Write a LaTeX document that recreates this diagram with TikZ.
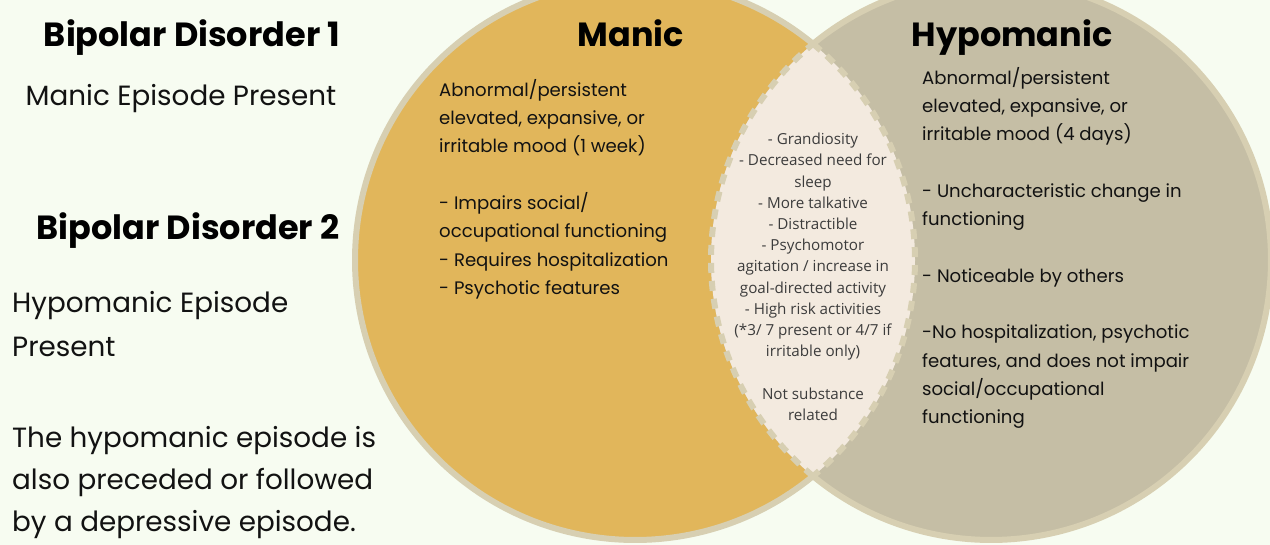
\documentclass[tikz,border=0pt]{standalone}
\usepackage{fontspec}
\setmainfont{Poppins}
\newfontfamily\lensfont{Open Sans}
\usetikzlibrary{positioning}
\definecolor{bgmint}{HTML}{F7FCF1}
\definecolor{manicgold}{HTML}{E1B65B}
\definecolor{hypogrey}{HTML}{C5BEA5}
\definecolor{lenscream}{HTML}{F3EADF}
\definecolor{rimbeige}{HTML}{D7CFB2}
\definecolor{inktext}{HTML}{121212}
\definecolor{lensink}{HTML}{3C3C3C}

\begin{document}
\begin{tikzpicture}[x=1pt, y=-1pt,
    heading/.style={font=\fontsize{33.5}{38}\selectfont\bfseries, text=black, inner sep=0pt, anchor=base},
    sidetext/.style={font=\fontsize{27.8}{44}\selectfont, text=inktext, inner sep=0pt, align=left},
    bodytext/.style={font=\fontsize{18.1}{28.3}\selectfont, text=inktext, inner sep=0pt, align=left, anchor=north west},
    lenstext/.style={font=\lensfont\fontsize{15.2}{21.2}\selectfont, text=lensink, inner sep=0pt, align=center, anchor=north},
    rim/.style={draw=rimbeige, line width=6pt},
    rimdash/.style={draw=rimbeige, line width=6pt, dash pattern=on 10pt off 8pt}
]
\def\rad{280}
\def\tip{50.53}
\useasboundingbox (0,0) rectangle (1270,545);
\fill[bgmint] (0,0) rectangle (1270,545);

% the two sets
\coordinate (mc) at (635,260);
\coordinate (hc) at (991,260);
\fill[manicgold] (mc) circle (\rad);
\fill[hypogrey]  (hc) circle (\rad);
\begin{scope}
  \clip (mc) circle (\rad);
  \fill[lenscream] (hc) circle (\rad);
\end{scope}

% rims: solid outside, dashed around the overlap
\draw[rim] (mc) ++(\tip:\rad) arc[start angle=\tip, end angle=360-\tip, radius=\rad];
\draw[rim] (hc) ++(180+\tip:\rad) arc[start angle=180+\tip, end angle=540-\tip, radius=\rad];
\draw[rimdash] (mc) ++(-\tip:\rad) arc[start angle=-\tip, end angle=\tip, radius=\rad];
\draw[rimdash] (hc) ++(180-\tip:\rad) arc[start angle=180-\tip, end angle=180+\tip, radius=\rad];

% left column
\node[heading] (bd1) at (192,47) {Bipolar Disorder 1};
\node[sidetext, anchor=base] (bd1txt) at (181,106) {Manic Episode Present};
\node[heading] (bd2) at (188,240) {Bipolar Disorder 2};
\node[sidetext, anchor=north west] (bd2txt) at (12,291) {Hypomanic Episode\\Present};
\node[sidetext, anchor=north west, font=\fontsize{27.8}{42.2}\selectfont] (bd2note) at (12,426)
  {The hypomanic episode is\\also preceded or followed\\by a depressive episode.};

% set titles
\node[heading] (manic) at (631,47) {Manic};
\node[heading] (hypo) at (1012,47) {Hypomanic};

% set contents
\node[bodytext] (manictxt) at (439,79)
  {Abnormal/persistent\\elevated, expansive, or\\irritable mood (1 week)\\[28.3pt]
   - Impairs social/\\occupational functioning\\- Requires hospitalization\\- Psychotic features};
\node[bodytext] (hypotxt) at (922,67)
  {Abnormal/persistent\\elevated, expansive, or\\irritable mood (4 days)\\[28.3pt]
   - Uncharacteristic change in\\functioning\\[28.3pt]
   - Noticeable by others\\[28.3pt]
   -No hospitalization, psychotic\\features, and does not impair\\social/occupational\\functioning};

% shared symptoms
\node[lenstext] (shared) at (813,133)
  {- Grandiosity\\- Decreased need for\\sleep\\- More talkative\\- Distractible\\- Psychomotor\\agitation / increase in\\goal-directed activity\\- High risk activities\\(*3/ 7 present or 4/7 if\\irritable only)\\[21.2pt]
   Not substance\\related};
\end{tikzpicture}
\end{document}
